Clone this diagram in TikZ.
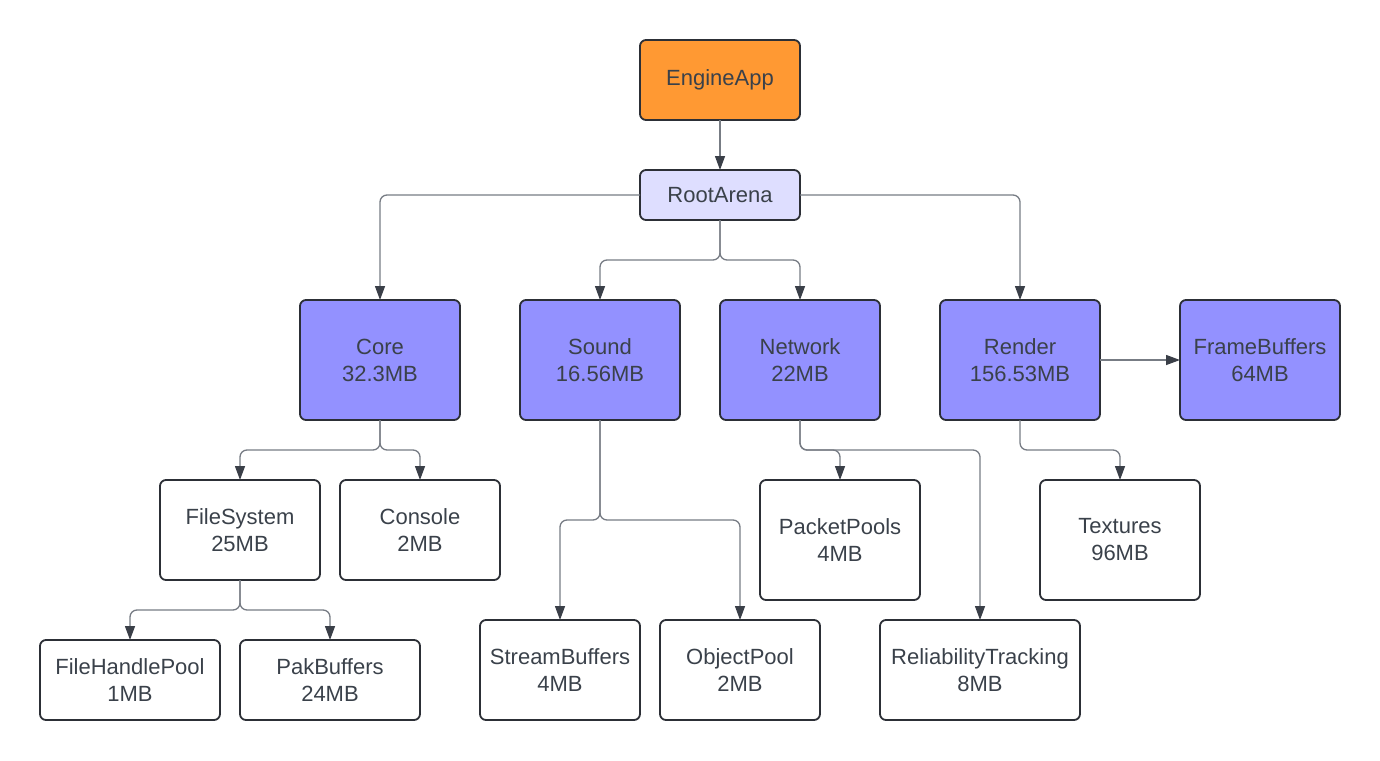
\documentclass[tikz,border=0pt]{standalone}
\usepackage{fontspec}
\setmainfont{Liberation Sans}
\usetikzlibrary{positioning,arrows.meta}
\definecolor{appfill}{HTML}{FF9933}
\definecolor{rootfill}{HTML}{DEDEFF}
\definecolor{subfill}{HTML}{9391FF}
\definecolor{boxline}{HTML}{2C2F36}
\definecolor{txtcol}{HTML}{3A414A}
\definecolor{wirecol}{HTML}{777C84}
\definecolor{tipcol}{HTML}{3A3F48}

\begin{document}
\begin{tikzpicture} [
    node distance = 60pt and 80pt,
    nodestyle/.style = {draw=boxline,
                        line width=1.8pt,
                        outer sep=0pt,
                        rounded corners=6pt,
                        minimum width=160pt,
                        minimum height=100pt,
                        align=center,
                        text=txtcol,
                        font=\fontsize{22}{27}\selectfont},
    arr/.style       = {wirecol,
                        line width=1.3pt,
                        rounded corners=7pt,
                        -{Triangle[length=14pt,width=10pt,color=tipcol]}}
]
\useasboundingbox (0,0) rectangle (1380pt,-760pt);
\node (app) [nodestyle, fill=appfill, minimum height=80pt] at (720pt,-80pt) {EngineApp};
\node (root) [nodestyle, fill=rootfill, minimum height=50pt, below=50pt of app] {RootArena};
\draw[arr] (app) -- (root);
% allocators under the root arena
\node (core) [nodestyle, fill=subfill, minimum height=120pt, below=80pt of root, xshift=-340pt] {Core\\32.3MB};
\node (sound) [nodestyle, fill=subfill, minimum height=120pt, below=80pt of root, xshift=-120pt] {Sound\\16.56MB};
\node (net) [nodestyle, fill=subfill, minimum height=120pt, below=80pt of root, xshift=80pt] {Network\\22MB};
\node (render) [nodestyle, fill=subfill, minimum height=120pt, below=80pt of root, xshift=300pt] {Render\\156.53MB};
\node (frame) [nodestyle, fill=subfill, minimum height=120pt, right=80pt of render] {FrameBuffers\\64MB};
\draw[arr] (root.west) -| (core.north);
\draw[arr] (root.east) -| (render.north);
\draw[arr] (root.south) -- ++(0,-40pt) -| (sound.north);
\draw[arr] (root.south) -- ++(0,-40pt) -| (net.north);
\draw[arr] (render) -- (frame);
% core
\node (fs) [nodestyle, below=of core, xshift=-140pt] {FileSystem\\25MB};
\node (console) [nodestyle, below=of core, xshift=40pt] {Console\\2MB};
\draw[arr] (core.south) -- ++(0,-30pt) -| (fs.north);
\draw[arr] (core.south) -- ++(0,-30pt) -| (console.north);
\node (fhp) [nodestyle, minimum width=180pt, minimum height=80pt, below=of fs, xshift=-110pt] {FileHandlePool\\1MB};
\node (pak) [nodestyle, minimum width=180pt, minimum height=80pt, below=of fs, xshift=90pt] {PakBuffers\\24MB};
\draw[arr] (fs.south) -- ++(0,-30pt) -| (fhp.north);
\draw[arr] (fs.south) -- ++(0,-30pt) -| (pak.north);
% sound
\node (stream) [nodestyle, below=200pt of sound, xshift=-40pt] {StreamBuffers\\4MB};
\node (objpool) [nodestyle, below=200pt of sound, xshift=140pt] {ObjectPool\\2MB};
\draw[arr] (sound.south) -- ++(0,-100pt) -| (stream.north);
\draw[arr] (sound.south) -- ++(0,-100pt) -| (objpool.north);
% network
\node (packet) [nodestyle, minimum height=120pt, below=of net, xshift=40pt] {PacketPools\\4MB};
\node (reliab) [nodestyle, minimum width=200pt, below=200pt of net, xshift=180pt] {ReliabilityTracking\\8MB};
\draw[arr] (net.south) -- ++(0,-30pt) -| (packet.north);
\draw[arr] (net.south) -- ++(0,-30pt) -| (reliab.north);
% render
\node (tex) [nodestyle, minimum height=120pt, below=of render, xshift=100pt] {Textures\\96MB};
\draw[arr] (render.south) -- ++(0,-30pt) -| (tex.north);
\end{tikzpicture}
\end{document}
